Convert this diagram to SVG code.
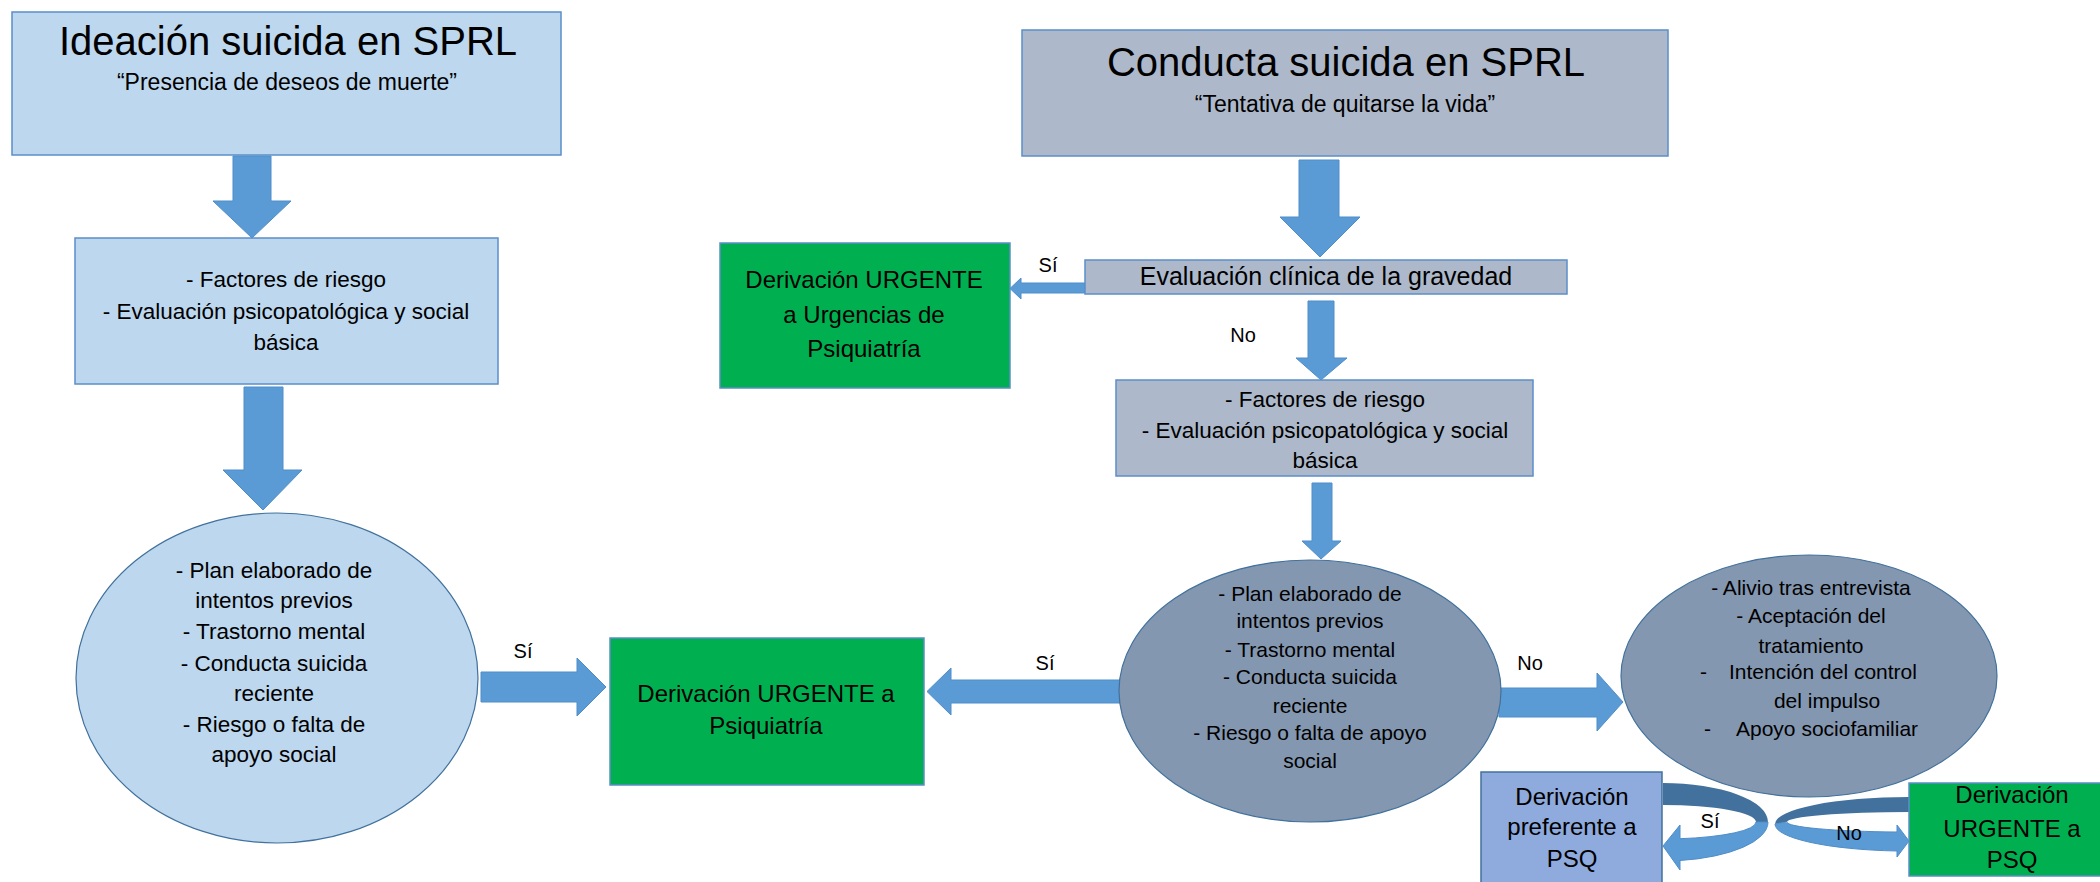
<svg xmlns="http://www.w3.org/2000/svg" width="2100" height="882" viewBox="0 0 2100 882">
<style>
text{font-family:"Liberation Sans",Arial,sans-serif;fill:#000;text-anchor:middle}
.lb{fill:#bdd7ee;stroke:#5b8fc9;stroke-width:1.5}
.gr{fill:#adb9ca;stroke:#5b8fc9;stroke-width:1.5}
.gn{fill:#00b050;stroke:#5b8fc9;stroke-width:1.5}
.el{fill:#bdd7ee;stroke:#41719c;stroke-width:1.2}
.eg{fill:#8497b0;stroke:#41719c;stroke-width:1.2}
.pf{fill:#8faadc;stroke:#41719c;stroke-width:1.5}
.ar{fill:#5b9bd5;stroke:#4f8dc9;stroke-width:1}
.dk{fill:#41719c}
.t40{font-size:40px}
.t23{font-size:23px}
.t22{font-size:22.5px}
.t21{font-size:21px}
.t24{font-size:24px}
.t25{font-size:25px}
.lbl{font-size:20px}
</style>
<g id="connectors">
<polygon class="ar" points="233,156 271,156 271,201 291,201 252,238 213,201 233,201"/>
<polygon class="ar" points="244,387 283,387 283,470 302,470 263,510 223,470 244,470"/>
<polygon class="ar" points="481,672 577,672 577,658 606,687 577,716 577,702 481,702"/>
<polygon class="ar" points="1299,160 1339,160 1339,217 1360,217 1320,257 1280,217 1299,217"/>
<polygon class="ar" points="1086,283 1021,283 1021,278 1010,288.5 1021,299 1021,293 1086,293"/>
<polygon class="ar" points="1308,301 1334,301 1334,358 1347,358 1321,380 1296,358 1308,358"/>
<polygon class="ar" points="1312,483 1332,483 1332,541 1341,541 1321,559 1302,541 1312,541"/>
<polygon class="ar" points="1120,680 951,680 951,668 927,691.5 951,715 951,703 1120,703"/>
<polygon class="ar" points="1499,688 1597,688 1597,673 1623,702 1597,731 1597,717 1499,717"/>
<path class="dk" d="M1663,783 A105,39 0 0 1 1768,822 L1756,822 A93,17 0 0 0 1663,805 Z"/>
<path class="ar" d="M1768,822 A105,39 0 0 1 1680,860.5 L1680,870 L1663,846 L1680,825 L1680,838.7 A93,17 0 0 0 1756,822 Z"/>
<path class="dk" d="M1909,797 A134,27 0 0 0 1775,824 L1787,822 A122,10 0 0 1 1909,812 Z"/>
<path class="ar" d="M1775,824 A134,27 0 0 0 1897,851 L1897,857 L1909,841 L1897,825 L1897,832 A122,10 0 0 1 1787,822 Z"/>
<text class="lbl" x="523" y="658">Sí</text>
<text class="lbl" x="1048" y="272">Sí</text>
<text class="lbl" x="1243" y="342">No</text>
<text class="lbl" x="1045" y="670">Sí</text>
<text class="lbl" x="1530" y="670">No</text>
<text class="lbl" x="1710" y="828">Sí</text>
<text class="lbl" x="1849" y="840">No</text>
</g>
<g id="ideacion">
<rect class="lb" x="12" y="12" width="549" height="143"/>
<text class="t40" x="288" y="55">Ideación suicida en SPRL</text>
<text class="t23" x="287" y="90">“Presencia de deseos de muerte”</text>
</g>
<g id="factores-izq">
<rect class="lb" x="75" y="238" width="423" height="146"/>
<text class="t22" x="286" y="287">- Factores de riesgo</text>
<text class="t22" x="286" y="319">- Evaluación psicopatológica y social</text>
<text class="t22" x="286" y="350">básica</text>
</g>
<g id="criterios-izq">
<ellipse class="el" cx="277" cy="678" rx="201" ry="165"/>
<text class="t22" x="274" y="578">- Plan elaborado de</text>
<text class="t22" x="274" y="608">intentos previos</text>
<text class="t22" x="274" y="639">- Trastorno mental</text>
<text class="t22" x="274" y="671">- Conducta suicida</text>
<text class="t22" x="274" y="701">reciente</text>
<text class="t22" x="274" y="732">- Riesgo o falta de</text>
<text class="t22" x="274" y="762">apoyo social</text>
</g>
<g id="derivacion-urgente-psiquiatria">
<rect class="gn" x="610" y="638" width="314" height="147"/>
<text class="t24" x="766" y="702">Derivación URGENTE a</text>
<text class="t24" x="766" y="734">Psiquiatría</text>
</g>
<g id="conducta">
<rect class="gr" x="1022" y="30" width="646" height="126"/>
<text class="t40" x="1346" y="76">Conducta suicida en SPRL</text>
<text class="t23" x="1345" y="112">“Tentativa de quitarse la vida”</text>
</g>
<g id="evaluacion">
<rect class="gr" x="1085" y="260" width="482" height="34"/>
<text class="t25" x="1326" y="285">Evaluación clínica de la gravedad</text>
</g>
<g id="derivacion-urgencias">
<rect class="gn" x="720" y="243" width="290" height="145"/>
<text class="t24" x="864" y="288">Derivación URGENTE</text>
<text class="t24" x="864" y="323">a Urgencias de</text>
<text class="t24" x="864" y="357">Psiquiatría</text>
</g>
<g id="factores-der">
<rect class="gr" x="1116" y="380" width="417" height="96"/>
<text class="t22" x="1325" y="407">- Factores de riesgo</text>
<text class="t22" x="1325" y="438">- Evaluación psicopatológica y social</text>
<text class="t22" x="1325" y="468">básica</text>
</g>
<g id="criterios-der">
<ellipse class="eg" cx="1310" cy="691" rx="191" ry="131"/>
<text class="t21" x="1310" y="601">- Plan elaborado de</text>
<text class="t21" x="1310" y="628">intentos previos</text>
<text class="t21" x="1310" y="657">- Trastorno mental</text>
<text class="t21" x="1310" y="684">- Conducta suicida</text>
<text class="t21" x="1310" y="713">reciente</text>
<text class="t21" x="1310" y="740">- Riesgo o falta de apoyo</text>
<text class="t21" x="1310" y="768">social</text>
</g>
<g id="protectores">
<ellipse class="eg" cx="1809" cy="676" rx="188" ry="121"/>
<text class="t21" x="1811" y="595">- Alivio tras entrevista</text>
<text class="t21" x="1811" y="623">- Aceptación del</text>
<text class="t21" x="1811" y="653">tratamiento</text>
<text class="t21" style="text-anchor:start" y="679"><tspan x="1700">-</tspan><tspan x="1729">Intención del control</tspan></text>
<text class="t21" x="1827" y="708">del impulso</text>
<text class="t21" style="text-anchor:start" y="736"><tspan x="1704">-</tspan><tspan x="1736">Apoyo sociofamiliar</tspan></text>
</g>
<g id="derivacion-preferente">
<rect class="pf" x="1481" y="772" width="181" height="115"/>
<text class="t24" x="1572" y="805">Derivación</text>
<text class="t24" x="1572" y="835">preferente a</text>
<text class="t24" x="1572" y="867">PSQ</text>
</g>
<g id="derivacion-urgente-psq">
<rect class="gn" x="1909" y="783" width="200" height="93"/>
<text class="t24" x="2012" y="803">Derivación</text>
<text class="t24" x="2012" y="837">URGENTE a</text>
<text class="t24" x="2012" y="868">PSQ</text>
</g>
</svg>
